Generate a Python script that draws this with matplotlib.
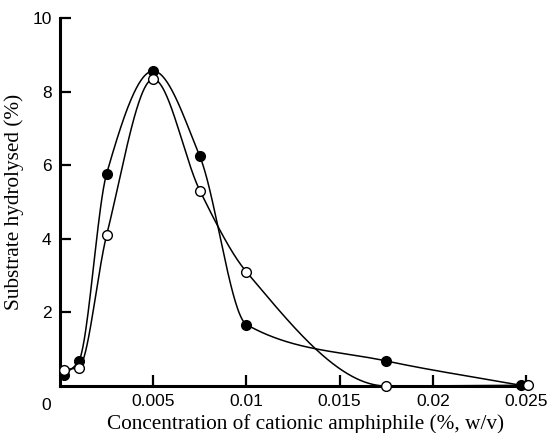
import numpy as np
import matplotlib
matplotlib.use("Agg")
import matplotlib.pyplot as plt

# Data
conc_filled = [0.0002, 0.001, 0.0025, 0.005, 0.0075, 0.01, 0.0175, 0.0247]
hyd_filled = [0.30, 0.67, 5.77, 8.56, 6.24, 1.67, 0.68, 0.02]
conc_open = [0.0002, 0.001, 0.0025, 0.005, 0.0075, 0.01, 0.0175, 0.0251]
hyd_open = [0.44, 0.50, 4.10, 8.34, 5.31, 3.10, 0.0, 0.02]

x_ticks = [0.005, 0.01, 0.015, 0.02, 0.025]
x_ticklabels = ["0.005", "0.01", "0.015", "0.02", "0.025"]
y_ticks = [2, 4, 6, 8, 10]
y_ticklabels = ["2", "4", "6", "8", "10"]


def pchip(x, y, xs):
    x = np.asarray(x, float)
    y = np.asarray(y, float)
    h = np.diff(x)
    d = np.diff(y) / h
    n = len(x)
    m = np.zeros(n)
    for k in range(1, n - 1):
        if d[k - 1] * d[k] > 0:
            w1 = 2 * h[k] + h[k - 1]
            w2 = h[k] + 2 * h[k - 1]
            m[k] = (w1 + w2) / (w1 / d[k - 1] + w2 / d[k])
        else:
            m[k] = 0.0
    m[0] = d[0]
    m[-1] = d[-1]
    ys = np.empty_like(xs)
    idx = np.clip(np.searchsorted(x, xs) - 1, 0, n - 2)
    for i, xv in enumerate(xs):
        k = idx[i]
        t = (xv - x[k]) / h[k]
        h00 = 2 * t**3 - 3 * t**2 + 1
        h10 = t**3 - 2 * t**2 + t
        h01 = -2 * t**3 + 3 * t**2
        h11 = t**3 - t**2
        ys[i] = h00 * y[k] + h10 * h[k] * m[k] + h01 * y[k + 1] + h11 * h[k] * m[k + 1]
    return ys


fig = plt.figure(figsize=(5.5, 4.33), dpi=100)
ax = fig.add_axes([60 / 550, 47 / 433, 468 / 550, 368 / 433])

for xs_, ys_ in [(conc_filled, hyd_filled), (conc_open, hyd_open)]:
    xx = np.linspace(xs_[0], xs_[-1], 600)
    ax.plot(xx, pchip(xs_, ys_, xx), color="black", lw=1.1, zorder=2)

ax.plot(conc_filled, hyd_filled, "o", ms=7, mfc="black", mec="black", mew=1, zorder=3, clip_on=False)
ax.plot(conc_open, hyd_open, "o", ms=7, mfc="white", mec="black", mew=1, zorder=4, clip_on=False)

ax.set_xlim(0, 0.0251)
ax.set_ylim(0, 10)
for s in ["top", "right"]:
    ax.spines[s].set_visible(False)
for s in ["left", "bottom"]:
    ax.spines[s].set_linewidth(2.2)

ax.set_xticks(x_ticks)
ax.set_xticklabels(x_ticklabels)
ax.set_yticks(y_ticks)
ax.set_yticklabels(y_ticklabels)
ax.tick_params(direction="in", length=8, width=1.6, labelsize=12.5, pad=6)
for lab in ax.get_xticklabels() + ax.get_yticklabels():
    lab.set_family("Liberation Sans")
ax.text(-0.0005, -0.33, "0", transform=ax.transData, ha="right", va="top",
        fontsize=12.5, family="Liberation Sans")

ax.set_xlabel("Concentration of cationic amphiphile (%, w/v)", fontsize=15.3,
              family="Liberation Serif", labelpad=2)
ax.xaxis.set_label_coords(0.525, -0.075)
ax.set_ylabel("Substrate hydrolysed (%)", fontsize=15.3, family="Liberation Serif", labelpad=6)

fig.savefig("out.png", dpi=100)
